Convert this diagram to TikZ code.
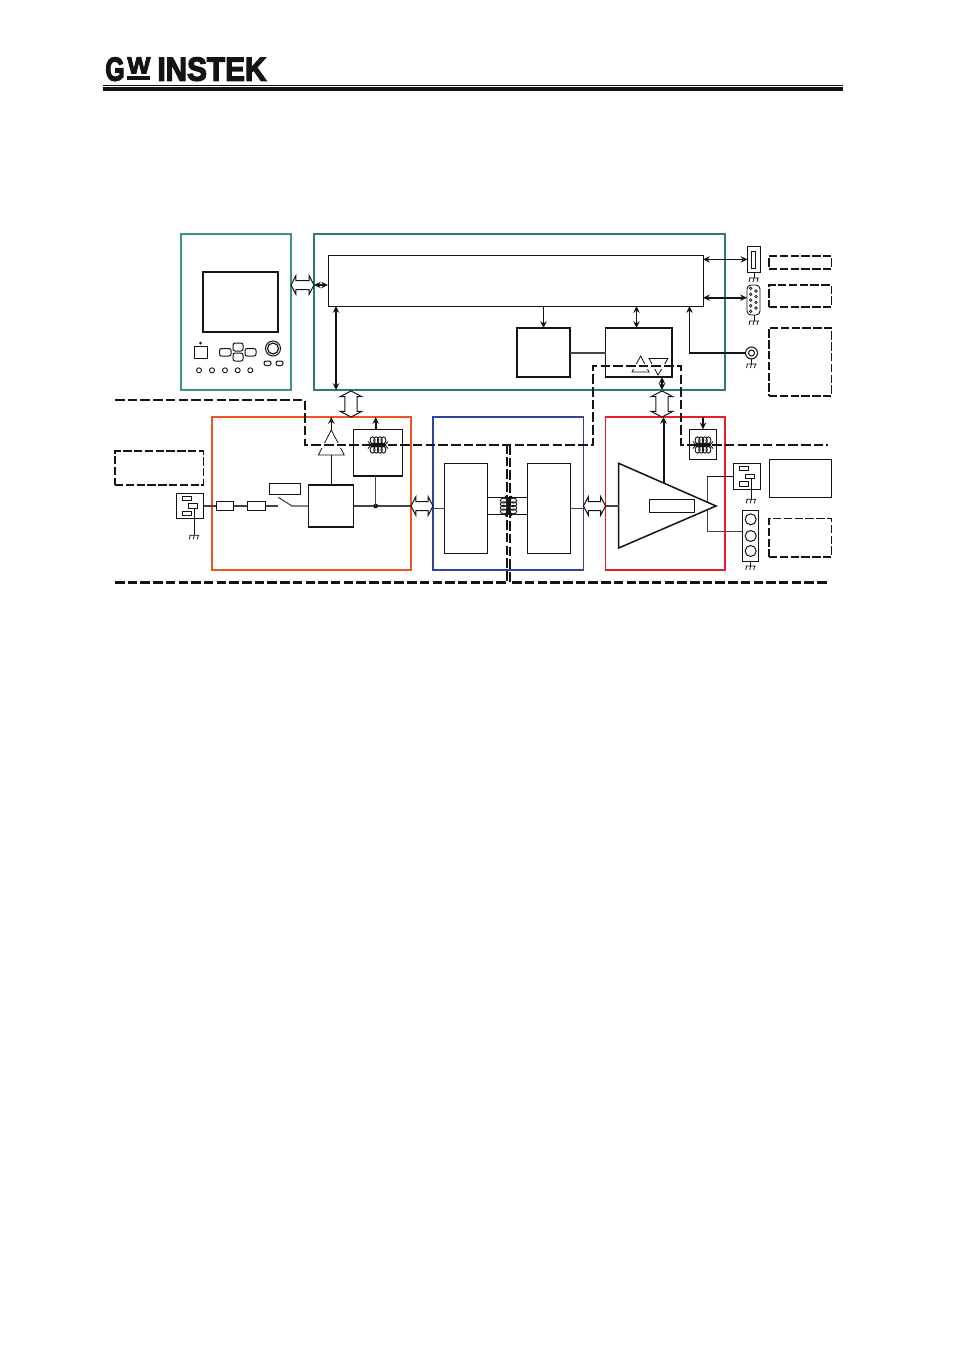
\documentclass[tikz,border=0pt]{standalone}
\usepackage{fontspec}
\usepackage{graphicx}
\usetikzlibrary{arrows.meta,shapes.arrows,shapes.geometric,calc}
\newfontfamily\brandfont[BoldFeatures={FakeBold=4}]{Liberation Sans}
\definecolor{panelgreen}{HTML}{3B9B6B}
\definecolor{ctrlteal}{HTML}{2A7B78}
\definecolor{pfcorange}{HTML}{F0541E}
\definecolor{dcblue}{HTML}{30439E}
\definecolor{ampred}{HTML}{EC1C2A}
\definecolor{wiregrey}{HTML}{444444}
\definecolor{ink}{HTML}{141414}
% rectangle node from its corners, in page pixels
\newcommand{\pxrect}[6]{\node[#1,minimum width={(#5-#3)*0.5pt},minimum height={(#6-#4)*0.5pt}] (#2) at ({(#3+#5)/2},{(#4+#6)/2}) {};}
\newcommand{\pxdisc}[5]{\node[circle,draw=ink,fill=white,inner sep=0pt,outer sep=0pt,line width=#5,minimum size={2*#4*0.5pt}] (#1) at (#2,#3) {};}
\tikzset{
  frame/.style={rectangle,draw,inner sep=0pt,outer sep=0pt,line width=0.85pt},
  block/.style={rectangle,draw=ink,fill=white,inner sep=0pt,outer sep=0pt,line width=0.75pt},
  thinblock/.style={block,line width=0.5pt},
  key/.style={block,line width=0.5pt,rounded corners=1pt},
  isolated/.style={rectangle,draw=ink,inner sep=0pt,outer sep=0pt,line width=0.7pt,dash pattern=on 4.2pt off 1.2pt},
  link/.style={draw=ink,line width=0.8pt,{Stealth[length=3.4pt,width=3.2pt]}-{Stealth[length=3.4pt,width=3.2pt]}},
  feed/.style={draw=ink,line width=0.8pt,-{Stealth[length=3.4pt,width=3.2pt]}},
  wire/.style={draw=wiregrey,line width=0.55pt},
  barrier/.style={draw=ink,line width=1.1pt,dash pattern=on 4.75pt off 1.6pt},
  busarrow/.style={double arrow,draw=ink,fill=white,line width=0.5pt,inner xsep=0pt,outer sep=0pt,
    double arrow tip angle=125,double arrow head extend=2.4pt},
  gnd/.pic={
    \draw[ink,line width=0.4pt] (-5,0) -- (5,0)
      (-4,0) -- (-5,4) (0,0) -- (-1,4) (4,0) -- (3,4);
  },
  coil/.pic={
    \foreach \u in {-5.4,-1.8,1.8,5.4}{
      \draw[ink,line width=0.45pt] (\u,-4.8) ellipse [x radius=2.5,y radius=3.4];
      \draw[ink,line width=0.45pt] (\u,4.8) ellipse [x radius=2.5,y radius=3.4];
    }
    \draw[ink,line width=0.45pt] (-10,-3.5) -- (-7,0) -- (-10,3.5) (10,-3.5) -- (7,0) -- (10,3.5);
    \fill[ink] (-7,-1.7) rectangle (7,1.7);
  }
}
\begin{document}
\begin{tikzpicture}[x=0.5pt,y=-0.5pt]
\useasboundingbox (0,0) rectangle (954,1350);

% brand mark and header rule
\node[inner sep=0pt,text=ink,anchor=north west] (brandg) at (105,57) {\resizebox{9.6pt}{11.6pt}{\brandfont\bfseries G}};
\node[inner sep=0pt,text=ink,anchor=north west] (brandw) at (127,57) {\resizebox{11.5pt}{8pt}{\brandfont\bfseries W}};
\pxrect{rectangle,fill=ink,inner sep=0pt}{brandbar}{127}{75.5}{150}{79.5}
\node[inner sep=0pt,text=ink,anchor=north west] (brandi) at (157,57) {\resizebox{54.5pt}{11.6pt}{\brandfont\bfseries INSTEK}};
\pxrect{rectangle,fill=ink,inner sep=0pt}{headthin}{103}{85}{843}{86}
\pxrect{rectangle,fill=ink,inner sep=0pt}{headthick}{103}{87}{843}{91}

% front panel
\pxrect{frame,draw=panelgreen}{panel}{181}{234}{291}{390}
\pxrect{block,line width=0.9pt}{screen}{203}{272}{278}{332}
\pxrect{thinblock}{powerkey}{194}{346}{207.5}{358}
\fill[ink] (200.5,343) circle (1.5);
\pxrect{key}{keyleft}{219.5}{348.5}{231}{356}
\pxrect{key}{keyup}{233}{343}{243}{351}
\pxrect{key}{keydown}{233}{353}{243}{361}
\pxrect{key}{keyright}{245}{348.5}{256}{356}
\pxdisc{knob}{273}{348.5}{7.5}{0.5pt}
\pxdisc{knobcap}{273}{348.5}{5.5}{0.6pt}
\pxrect{key}{softa}{264}{361}{271}{365.5}
\pxrect{key}{softb}{276}{361}{283}{365.5}
\foreach \n/\x in {a/199,b/212,c/225,d/237.7,e/250.3}{\pxdisc{lamp\n}{\x}{370.3}{2.5}{0.45pt}}

% control board
\pxrect{frame,draw=ctrlteal}{control}{314}{234}{725}{390}
\pxrect{block,line width=0.5pt}{mainblock}{328}{255}{703}{306}
\pxrect{block}{midblock}{517}{328}{570}{377}
\pxrect{block}{ioblock}{605.5}{328}{672}{377}

% mains input section
\pxrect{frame,draw=pfcorange}{pfc}{212}{417}{411}{570}
\pxrect{thinblock}{inlet}{176.5}{493.5}{203.5}{518.5}
\pxrect{thinblock}{inleta}{182.3}{496}{191.7}{500.7}
\pxrect{thinblock}{inletb}{188}{503.3}{197.7}{508.3}
\pxrect{thinblock}{inletc}{182.3}{511.3}{191.7}{515.7}
\pxrect{thinblock}{fuse}{216.3}{501.5}{233.7}{510.5}
\pxrect{thinblock}{filter}{247.3}{501.5}{265.7}{510.5}
\pxrect{thinblock}{switchtag}{269.3}{483.3}{300.7}{494.3}
\pxrect{block}{rectifier}{308.7}{485}{353.7}{527}
\pxrect{block}{auxsupply}{353.3}{429.3}{402.3}{476}
\coordinate (switchin) at (278.3,506);
\coordinate (switchtip) at (278.3,497.3);
\coordinate (switchpivot) at (292,506);
\coordinate (inletgnd) at (194.3,535.3);
\coordinate (junction) at (375.7,506);
\coordinate (pfcbuf) at (331.3,455);
\coordinate (pfcbuftip) at (331.3,430);
\coordinate (pfctop) at (331.3,417);
\coordinate (auxtop) at (375.7,417);
\coordinate (auxfoot) at (375.7,476);
\coordinate (auxhead) at (375.7,429.3);

% DC-DC stage
\pxrect{frame,draw=dcblue}{dcdc}{433}{417}{583.5}{570}
\pxrect{block}{primary}{444.7}{463.3}{487.3}{553.3}
\pxrect{block}{secondary}{527.7}{463.3}{570.3}{553.3}

% output amplifier
\pxrect{frame,draw=ampred}{amp}{605.5}{417}{725}{570}
\coordinate (ampa) at (618.7,463.3);
\coordinate (ampb) at (618.7,548);
\coordinate (ampc) at (716,506);
\coordinate (ampin) at (618.7,506);
\coordinate (ampsense) at (663.5,482.7);
\coordinate (amptop) at (663.5,417);
\coordinate (ampbus) at (707.3,476.3);
\coordinate (ampbusb) at (707.3,531.3);
\draw[wire] (ampbus) -- (ampbusb);
\draw[ink,fill=white,line width=0.75pt,line join=miter] (ampa) -- (ampc) -- (ampb) -- cycle;
\pxrect{block}{limit}{649.3}{499.3}{694.7}{512.7}
\pxrect{block}{ampaux}{689.3}{429.3}{716.7}{459.3}

% rear connectors
\pxrect{thinblock}{usb}{747.5}{246.5}{760.5}{272}
\pxrect{thinblock}{usbslot}{751.3}{251}{755.7}{268}
\pxrect{rectangle,draw=ink,fill=white,inner sep=0pt,outer sep=0pt,line width=0.45pt,rounded corners=2pt}{dsub}{747}{285}{760}{315}
\foreach \n/\y in {a/288.3,b/294.3,c/300,d/305.7,e/311.3}{\pxdisc{pinl\n}{750.7}{\y}{1.3}{0.35pt}}
\foreach \n/\y in {a/291,b/296.7,c/302.3,d/308}{\pxdisc{pinr\n}{756}{\y}{1.3}{0.35pt}}
\pxdisc{bnc}{751.5}{353}{6}{0.5pt}
\pxdisc{bnccore}{751.5}{353}{3}{0.5pt}
\pxrect{thinblock}{outsocket}{733.3}{463.3}{760.7}{489.3}
\pxrect{thinblock}{outa}{739.3}{466.3}{748.7}{470.7}
\pxrect{thinblock}{outb}{745.3}{474.3}{754.7}{478.7}
\pxrect{thinblock}{outc}{739.3}{481.3}{748.7}{486.3}
\pxrect{thinblock}{posts}{742.3}{510.3}{758.7}{561.7}
\pxdisc{posta}{750.7}{519.3}{5.5}{0.5pt}
\pxdisc{postb}{750.7}{536}{5.5}{0.5pt}
\pxdisc{postc}{750.7}{551}{5.5}{0.5pt}

% option and load frames
\pxrect{isolated}{usbframe}{769}{256}{831.5}{269}
\pxrect{isolated}{rsframe}{769}{285}{831.5}{307}
\pxrect{isolated}{extframe}{769}{328}{831.5}{396}
\pxrect{isolated}{acframe}{115}{451}{203.5}{485}
\pxrect{thinblock}{loadframe}{769}{459.5}{831.5}{497}
\pxrect{isolated}{termframe}{769}{518.5}{831.5}{557}

% buffer triangles
\coordinate (uptip) at (640.7,356);
\coordinate (downtip) at (658,375);
\draw[ink,line width=0.4pt,fill=white] (uptip) -- (649,372) -- (632,372) -- cycle;
\draw[ink,line width=0.4pt,fill=white] (649,358.5) -- (668,358.5) -- (downtip) -- cycle;
\draw[ink,line width=0.4pt,fill=white] (pfcbuftip) -- (344.3,455) -- (318.3,455) -- cycle;
\fill[white] (316,442.5) rectangle (347,448);
\fill[white] (630,363.5) rectangle (670,369);

% wiring
\draw[wire] (inlet.east |- fuse) -- (fuse);
\draw[wire] (fuse) -- (filter);
\draw[wire] (filter) -- (switchin);
\draw[wire] (switchtip) -- (switchpivot) -- (rectifier.west);
\draw[wire] (rectifier.east) -- (junction) -- (pfc.east |- junction);
\fill[ink] (junction) circle (2.4);
\draw[wire] (junction) -- (auxfoot);
\draw[ink,line width=0.55pt] (pfcbuf) -- (rectifier.north -| pfcbuf);
\draw[ink,line width=0.55pt] (inletb.south -| inletgnd) -- (inletgnd);
\draw[wire] (dcdc.west |- primary) -- (primary.west);
\draw[wire] (secondary.east) -- (dcdc.east |- secondary);
\draw[wire] (amp.west |- ampin) -- (ampin);
\draw[ink,line width=0.5pt] (primary.east |- 0,497.3) -- (secondary.west |- 0,497.3);
\draw[ink,line width=0.5pt] (primary.east |- 0,514.3) -- (secondary.west |- 0,514.3);
\draw[wire] (midblock.east |- 0,353) -- (ioblock.west |- 0,353);
\draw[ink,line width=0.5pt] (ampbus) -- (outsocket.west |- ampbus);
\draw[wire] (ampbusb) -- (posts.west |- ampbusb);
\draw[ink,line width=0.5pt] (outb.south -| 751.3,0) -- (751.3,499.3);
\draw[ink,line width=0.5pt] (usb.south) -- (754,278);
\draw[ink,line width=0.5pt] (dsub.south -| 754,0) -- (754,321);
\draw[ink,line width=0.5pt] (bnc.south) -- (751.5,364);
\draw[ink,line width=0.5pt] (posts.south -| 750.7,0) -- (750.7,566);
\pic at (inletgnd) {gnd};
\pic at (754,278) {gnd};
\pic at (754,321) {gnd};
\pic at (751.5,364) {gnd};
\pic at (751.3,499.3) {gnd};
\pic at (750.7,566) {gnd};

% control connections
\draw[link] (mainblock.east |- 0,259.4) -- (usb.west |- 0,259.4);
\draw[link] (mainblock.east |- 0,297.7) -- (dsub.west |- 0,297.7);
\draw[link] (ioblock.north -| 636.5,0) -- (mainblock.south -| 636.5,0);
\draw[feed] (mainblock.south -| midblock) -- (midblock.north);
\draw[link] (mainblock.south -| 336,0) -- (control.south -| 336,0);
\draw[feed] (bnc.west) -- (689.5,353) -- (mainblock.south -| 689.5,0);
\draw[link] (control.west |- 0,285) -- (mainblock.west |- 0,285);
\draw[link] (ioblock.south -| 662,0) -- (control.south -| 662,0);
\draw[feed] (pfcbuftip) -- (pfctop);
\draw[feed] (auxhead) -- (auxtop);
\draw[feed,line width=1pt] (ampsense) -- (amptop);
\draw[feed] (amp.north -| ampaux) -- (ampaux.north);

% isolation barrier
\draw[barrier] (115,400) -- (305,400) -- (305,445) -- (593,445) -- (593,366) -- (681,366) -- (681,445) -- (828,445);
\draw[barrier] (115,582.5) -- (506.7,582.5) -- (506.7,445);
\draw[barrier] (510,445) -- (510,582.5) -- (828,582.5);

% transformers
\pic at (378,445) {coil};
\pic at (703,445) {coil};
\pic[rotate=90] at (508.5,506) {coil};

% internal buses
\node[busarrow,minimum height=11.5pt,inner ysep=2pt] (busa) at (302.5,285) {};
\node[busarrow,minimum height=11pt,inner ysep=2pt] (busb) at (422,506) {};
\node[busarrow,minimum height=11pt,inner ysep=2pt] (busc) at (594.5,506) {};
\node[busarrow,rotate=90,minimum height=13pt,inner ysep=2.8pt] (busd) at (351,404) {};
\node[busarrow,rotate=90,minimum height=13pt,inner ysep=2.8pt] (buse) at (662,404) {};
\end{tikzpicture}
\end{document}
